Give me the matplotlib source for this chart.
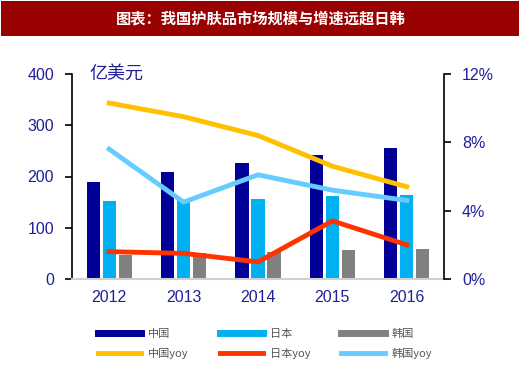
import matplotlib
matplotlib.use("Agg")
import matplotlib.pyplot as plt
import numpy as np
from matplotlib.patches import Rectangle
from matplotlib.lines import Line2D

years = ["2012", "2013", "2014", "2015", "2016"]
china = [190, 209, 226, 241, 255]
japan = [152, 154, 156, 161, 164]
korea = [47, 50, 53, 56, 58]
china_yoy = [10.3, 9.5, 8.4, 6.6, 5.4]
japan_yoy = [1.6, 1.5, 1.0, 3.4, 2.0]
korea_yoy = [7.6, 4.5, 6.1, 5.2, 4.6]
title = "图表：我国护肤品市场规模与增速远超日韩"
unit = "亿美元"
labels = ["中国", "日本", "韩国", "中国yoy", "日本yoy", "韩国yoy"]

c_china, c_japan, c_korea = "#000099", "#00B0F0", "#808080"
c_cy, c_jy, c_ky = "#FFC000", "#FF3300", "#66CCFF"
tick_col = "#1F1F9A"

plt.rcParams['font.family'] = ['Noto Sans CJK SC', 'DejaVu Sans']

W, H = 520, 372
fig = plt.figure(figsize=(W / 100, H / 100), dpi=100)
fig.patch.set_facecolor("white")

# title bar
fig.patches.append(Rectangle((1 / W, 1 - 36 / H), 518 / W, 35 / H, transform=fig.transFigure,
                             facecolor="#990000", edgecolor="none"))
fig.text(261 / W, 1 - 18.5 / H, title, color="white", fontsize=11, fontweight="bold",
         ha="center", va="center")

ax = fig.add_axes([72 / W, 93 / H, 372 / W, 205 / H])
x = np.arange(len(years))
bw = 0.175
off = 0.215
ax.bar(x - off, china, bw, color=c_china, zorder=2)
ax.bar(x, japan, bw, color=c_japan, zorder=2)
ax.bar(x + off, korea, bw, color=c_korea, zorder=2)
ax.set_xlim(-0.5, len(years) - 0.5)
ax.set_ylim(0, 400)
ax.set_yticks([0, 100, 200, 300, 400])
ax.set_xticks(x)
ax.set_xticklabels(years)
for s in ["top", "right"]:
    ax.spines[s].set_visible(False)
ax.spines["left"].set_color("black")
ax.spines["left"].set_linewidth(1.2)
ax.spines["bottom"].set_color("#D0D0D0")
ax.spines["bottom"].set_linewidth(1.5)
ax.tick_params(axis="y", direction="out", length=5, width=1.2, colors="black",
               labelcolor=tick_col, labelsize=11.5, pad=8)
ax.tick_params(axis="x", length=0, labelcolor=tick_col, labelsize=11.5, pad=8)
for lab in ax.get_yticklabels() + ax.get_xticklabels():
    lab.set_family("Liberation Sans")

ax2 = ax.twinx()
ax2.plot(x, china_yoy, color=c_cy, lw=3.5, zorder=3)
ax2.plot(x, japan_yoy, color=c_jy, lw=3.5, zorder=3)
ax2.plot(x, korea_yoy, color=c_ky, lw=3.5, zorder=3)
ax2.set_ylim(0, 12)
ax2.set_yticks([0, 4, 8, 12])
ax2.set_yticklabels(["0%", "4%", "8%", "12%"])
for s in ["top", "left", "bottom"]:
    ax2.spines[s].set_visible(False)
ax2.spines["right"].set_color("black")
ax2.spines["right"].set_linewidth(1.2)
ax2.tick_params(axis="y", direction="out", length=5, width=1.2, colors="black",
                labelcolor=tick_col, labelsize=11.5, pad=8)
for lab in ax2.get_yticklabels():
    lab.set_family("Liberation Sans")

fig.text(89 / W, 1 - 74 / H, unit, color=tick_col, fontsize=13, ha="left", va="center")

handles = [
    Line2D([], [], color=c_china, lw=5),
    Line2D([], [], color=c_japan, lw=5),
    Line2D([], [], color=c_korea, lw=5),
    Line2D([], [], color=c_cy, lw=3.5),
    Line2D([], [], color=c_jy, lw=3.5),
    Line2D([], [], color=c_ky, lw=3.5),
]
order = [0, 3, 1, 4, 2, 5]
leg = fig.legend([handles[i] for i in order], [labels[i] for i in order], ncol=3,
                 loc="center", bbox_to_anchor=(265 / W, 1 - 344 / H), frameon=False,
                 fontsize=8, handlelength=3.9, columnspacing=2.8, labelspacing=0.75,
                 handletextpad=0.6, labelcolor="#555555")

fig.savefig("out.png", dpi=100)
